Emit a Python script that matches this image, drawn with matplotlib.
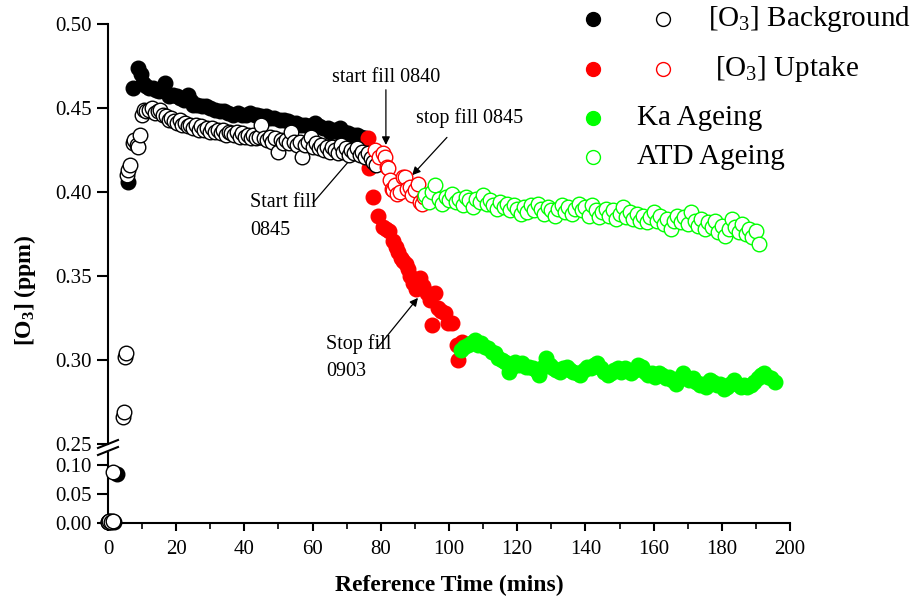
import numpy as np
import matplotlib
matplotlib.use("Agg")
import matplotlib.pyplot as plt
from matplotlib.lines import Line2D
from matplotlib.ticker import FormatStrFormatter, MultipleLocator

plt.rcParams['font.family'] = 'Liberation Serif'
plt.rcParams['mathtext.fontset'] = 'custom'
plt.rcParams['mathtext.rm'] = 'Liberation Serif'
plt.rcParams['mathtext.it'] = 'Liberation Serif:italic'
plt.rcParams['mathtext.bf'] = 'Liberation Serif:bold'

# --- data (time in mins, [O3] in ppm) ---
bg_fill_t = [0.0, 0.3, 0.7, 1.2, 1.8, 2.6, 5.8, 7.4, 8.8, 9.6,
             10.3, 11.2, 12.0, 13.2, 14.1, 15.0, 16.7, 18.0, 19.2, 20.1,
             21.0, 22.2, 23.5, 24.4, 25.0, 26.2, 27.5, 28.6, 30.0, 31.3,
             32.8, 34.0, 35.2, 36.7, 38.0, 39.2, 40.4, 41.6, 43.0, 43.7,
             45.0, 46.3, 47.5, 48.8, 50.4, 51.6, 52.8, 54.0, 55.2, 56.5,
             57.8, 59.0, 60.7, 62.0, 63.2, 64.4, 65.0, 66.3, 67.5, 68.0,
             69.2, 70.4, 71.8, 73.0, 74.2, 75.4]
bg_fill_v = [0.002, 0.004, 0.001, 0.003, 0.002, 0.084, 0.406, 0.462, 0.474, 0.470,
             0.465, 0.463, 0.462, 0.462, 0.461, 0.460, 0.465, 0.457, 0.458, 0.457,
             0.456, 0.455, 0.458, 0.454, 0.452, 0.452, 0.451, 0.451, 0.450, 0.449,
             0.448, 0.448, 0.447, 0.446, 0.447, 0.446, 0.446, 0.447, 0.446, 0.446,
             0.445, 0.445, 0.444, 0.444, 0.443, 0.443, 0.442, 0.441, 0.441, 0.440,
             0.440, 0.439, 0.441, 0.439, 0.438, 0.438, 0.436, 0.437, 0.436, 0.438,
             0.436, 0.435, 0.434, 0.434, 0.433, 0.432]

bg_open_t = [0.0, 0.4, 0.9, 1.4, 1.6, 4.4, 4.7, 5.0, 5.3, 5.6,
             6.0, 6.6, 7.2, 7.6, 8.4, 8.9, 9.4, 10.0, 10.6, 11.2,
             12.0, 13.0, 13.8, 14.6, 15.4, 16.2, 17.0, 17.8, 18.6, 19.4,
             20.2, 21.0, 21.8, 22.6, 23.4, 24.2, 25.0, 25.8, 26.6, 27.4,
             28.2, 29.0, 29.8, 30.6, 31.4, 32.2, 33.0, 33.8, 34.6, 35.4,
             36.2, 37.0, 37.8, 38.6, 39.4, 40.2, 41.0, 41.8, 42.6, 43.4,
             44.2, 45.0, 45.8, 46.6, 47.4, 48.2, 49.0, 49.8, 50.6, 51.4,
             52.2, 53.0, 53.8, 54.6, 55.4, 56.2, 57.0, 57.8, 58.6, 59.4,
             60.2, 61.0, 61.8, 62.6, 63.4, 64.2, 65.0, 65.8, 66.6, 67.4,
             68.2, 69.0, 69.8, 70.6, 71.4, 72.2, 73.0, 73.8, 74.6, 75.4,
             76.2, 77.0, 77.8, 78.6]
bg_open_v = [0.001, 0.003, 0.002, 0.004, 0.088, 0.266, 0.269, 0.302, 0.304, 0.410,
             0.413, 0.416, 0.429, 0.431, 0.428, 0.427, 0.434, 0.446, 0.449, 0.448,
             0.449, 0.450, 0.447, 0.448, 0.449, 0.446, 0.445, 0.443, 0.444, 0.442,
             0.441, 0.443, 0.440, 0.441, 0.439, 0.440, 0.438, 0.440, 0.437, 0.439,
             0.437, 0.438, 0.436, 0.438, 0.436, 0.437, 0.435, 0.437, 0.434, 0.436,
             0.435, 0.434, 0.436, 0.433, 0.435, 0.433, 0.434, 0.432, 0.434, 0.432,
             0.433, 0.440, 0.432, 0.431, 0.433, 0.430, 0.432, 0.424, 0.431, 0.429,
             0.431, 0.429, 0.436, 0.430, 0.428, 0.430, 0.421, 0.428, 0.430, 0.433,
             0.427, 0.429, 0.426, 0.428, 0.425, 0.427, 0.424, 0.427, 0.425, 0.423,
             0.428, 0.424, 0.426, 0.422, 0.425, 0.423, 0.426, 0.422, 0.424, 0.421,
             0.423, 0.420, 0.418, 0.416]

up_fill_t = [76.2, 76.6, 77.8, 79.3, 80.7, 81.6, 82.5, 83.6, 84.4, 85.1,
             85.9, 86.6, 87.3, 88.0, 88.7, 89.4, 90.4, 91.5, 92.5, 93.5,
             94.4, 95.0, 95.9, 96.9, 97.8, 98.8, 99.8, 100.8, 102.3, 102.6,
             103.8]
up_fill_v = [0.432, 0.414, 0.397, 0.386, 0.379, 0.378, 0.377, 0.371, 0.367, 0.364,
             0.361, 0.359, 0.357, 0.354, 0.350, 0.346, 0.342, 0.349, 0.344, 0.340,
             0.336, 0.321, 0.340, 0.331, 0.329, 0.328, 0.322, 0.322, 0.309, 0.300,
             0.311]

up_open_t = [78.3, 79.5, 80.7, 81.2, 81.8, 82.2, 82.7, 83.2, 83.6, 84.2,
             84.9, 85.6, 86.5, 87.0, 87.7, 88.5, 89.2, 89.9, 90.9, 91.5,
             92.0, 92.6]
up_open_v = [0.425, 0.421, 0.423, 0.421, 0.415, 0.414, 0.407, 0.402, 0.401, 0.404,
             0.399, 0.400, 0.409, 0.409, 0.402, 0.403, 0.398, 0.401, 0.405, 0.394,
             0.393, 0.397]

ka_t = [103.5, 104.5, 105.5, 106.5, 107.5, 108.5, 109.5, 110.5, 111.5, 112.5,
        113.5, 114.5, 115.5, 116.5, 117.5, 118.5, 119.5, 120.5, 121.5, 122.5,
        123.5, 124.5, 125.5, 126.5, 127.5, 128.5, 129.5, 130.5, 131.5, 132.5,
        133.5, 134.5, 135.5, 136.5, 137.5, 138.5, 139.5, 140.5, 141.5, 142.5,
        143.5, 144.5, 145.5, 146.5, 147.5, 148.5, 149.5, 150.5, 151.5, 152.5,
        153.5, 154.5, 155.5, 156.5, 157.5, 158.5, 159.5, 160.5, 161.5, 162.5,
        163.5, 164.5, 165.5, 166.5, 167.5, 168.5, 169.5, 170.5, 171.5, 172.5,
        173.5, 174.5, 175.5, 176.5, 177.5, 178.5, 179.5, 180.5, 181.5, 182.5,
        183.5, 184.5, 185.5, 186.5, 187.5, 188.5, 189.5, 190.5, 191.5, 192.5,
        193.5, 194.5, 195.5]
ka_v = [0.306, 0.308, 0.309, 0.310, 0.312, 0.309, 0.310, 0.308, 0.307, 0.305,
        0.304, 0.301, 0.300, 0.299, 0.293, 0.296, 0.299, 0.297, 0.298, 0.296,
        0.296, 0.295, 0.294, 0.291, 0.296, 0.301, 0.297, 0.295, 0.294, 0.293,
        0.295, 0.296, 0.294, 0.293, 0.292, 0.291, 0.294, 0.296, 0.295, 0.297,
        0.298, 0.295, 0.293, 0.291, 0.292, 0.294, 0.295, 0.293, 0.295, 0.294,
        0.292, 0.294, 0.297, 0.296, 0.293, 0.291, 0.292, 0.290, 0.292, 0.291,
        0.289, 0.290, 0.288, 0.286, 0.289, 0.292, 0.290, 0.288, 0.289, 0.287,
        0.285, 0.286, 0.284, 0.288, 0.287, 0.285, 0.286, 0.283, 0.284, 0.286,
        0.288, 0.286, 0.284, 0.285, 0.284, 0.285, 0.287, 0.289, 0.291, 0.292,
        0.290, 0.289, 0.287]

atd_t = [93, 94, 95, 96, 97, 98, 99, 100, 101, 102,
         103, 104, 105, 106, 107, 108, 109, 110, 111, 112,
         113, 114, 115, 116, 117, 118, 119, 120, 121, 122,
         123, 124, 125, 126, 127, 128, 129, 130, 131, 132,
         133, 134, 135, 136, 137, 138, 139, 140, 141, 142,
         143, 144, 145, 146, 147, 148, 149, 150, 151, 152,
         153, 154, 155, 156, 157, 158, 159, 160, 161, 162,
         163, 164, 165, 166, 167, 168, 169, 170, 171, 172,
         173, 174, 175, 176, 177, 178, 179, 180, 181, 182,
         183, 184, 185, 186, 187, 188, 189, 190, 191]
atd_v = [0.398, 0.394, 0.400, 0.404, 0.396, 0.393, 0.397, 0.395, 0.399, 0.394,
         0.396, 0.392, 0.397, 0.395, 0.391, 0.396, 0.394, 0.398, 0.393, 0.395,
         0.392, 0.390, 0.394, 0.391, 0.393, 0.389, 0.392, 0.390, 0.387, 0.391,
         0.388, 0.392, 0.389, 0.393, 0.390, 0.387, 0.391, 0.389, 0.386, 0.390,
         0.392, 0.388, 0.391, 0.387, 0.390, 0.393, 0.389, 0.391, 0.386, 0.392,
         0.389, 0.385, 0.388, 0.390, 0.386, 0.389, 0.384, 0.387, 0.391, 0.385,
         0.388, 0.384, 0.387, 0.383, 0.386, 0.382, 0.385, 0.388, 0.383, 0.386,
         0.381, 0.384, 0.378, 0.383, 0.386, 0.382, 0.385, 0.381, 0.388, 0.383,
         0.380, 0.384, 0.378, 0.382, 0.379, 0.383, 0.376, 0.380, 0.374, 0.378,
         0.384, 0.379, 0.376, 0.381, 0.375, 0.378, 0.373, 0.377, 0.369]

GREEN = '#00ff00'
MS = 10.5

fig = plt.figure(figsize=(9.15, 6.06), dpi=100)
ax = fig.add_axes([0.118, 0.2673, 0.7454, 0.6931])    # 0.25 - 0.50
axl = fig.add_axes([0.118, 0.137, 0.7454, 0.1155])    # 0.00 - 0.12


def draw(t, v, color, filled, z):
    t = np.asarray(t)
    v = np.asarray(v)
    hi = v > 0.2
    kw = dict(ls='none', marker='o', ms=MS, mec=color, mew=1.0,
              mfc=color if filled else 'white', zorder=z)
    ax.plot(t[hi], v[hi], **kw)
    if (~hi).any():
        axl.plot(t[~hi], v[~hi], clip_on=False, **kw)


draw(bg_fill_t, bg_fill_v, 'black', True, 3)
draw(up_fill_t, up_fill_v, 'red', True, 4)
draw(bg_open_t, bg_open_v, 'black', False, 5)
draw(up_open_t, up_open_v, 'red', False, 6)
draw(ka_t, ka_v, GREEN, True, 7)
draw(atd_t, atd_v, GREEN, False, 8)

for a in (ax, axl):
    a.set_xlim(0, 200)
    a.spines['top'].set_visible(False)
    a.spines['right'].set_visible(False)
    a.spines['left'].set_linewidth(1.5)
    a.spines['bottom'].set_linewidth(1.5)
    a.yaxis.set_major_formatter(FormatStrFormatter('%.2f'))
    a.tick_params(axis='y', direction='out', length=8, width=1.5, labelsize=15)

ax.set_ylim(0.25, 0.50)
ax.set_yticks([0.25, 0.30, 0.35, 0.40, 0.45, 0.50])
ax.spines['bottom'].set_visible(False)
ax.set_xticks([])

axl.set_ylim(0, 0.12)
axl.set_yticks([0.00, 0.05, 0.10])
axl.xaxis.set_major_locator(MultipleLocator(20))
axl.xaxis.set_minor_locator(MultipleLocator(10))
axl.tick_params(axis='x', which='major', direction='out', length=6, width=1.5, labelsize=15, pad=6)
axl.tick_params(axis='x', which='minor', direction='out', length=4, width=1.2)

# axis break marks
for y0, y1 in ((448, 440), (455, 447)):
    fig.add_artist(Line2D([98 / 915, 118 / 915], [1 - y0 / 606, 1 - y1 / 606],
                          transform=fig.transFigure, color='black', lw=1.5))

axl.set_xlabel('Reference Time (mins)', fontsize=17, fontweight='bold', labelpad=12)
fig.text(25 / 915, 1 - 290 / 606, r'$\mathbf{[O_3]\ (ppm)}$', rotation=90,
         ha='center', va='center', fontsize=17)

# annotations
arw = dict(arrowstyle='-|>', color='black', lw=0.9, mutation_scale=12, shrinkA=0, shrinkB=0)
ax.annotate('start fill 0840', xy=(81.5, 0.428), xytext=(81.5, 0.4625),
            ha='center', va='bottom', fontsize=14.5, arrowprops=arw, annotation_clip=False)
ax.annotate('', xy=(89.2, 0.410), xytext=(99.4, 0.4325), arrowprops=arw)
ax.text(106, 0.444, 'stop fill 0845', ha='center', va='center', fontsize=14.5)
ax.annotate('', xy=(76.0, 0.431), xytext=(60.1, 0.3935), arrowprops=arw)
ax.text(41.6, 0.3855, 'Start fill\n0845', ha='left', va='center', fontsize=14.5, linespacing=1.6)
ax.annotate('', xy=(90.9, 0.337), xytext=(79.2, 0.3077), arrowprops=arw)
ax.text(63.9, 0.3015, 'Stop fill\n0903', ha='left', va='center', fontsize=14.5, linespacing=1.6)

# legend, placed by hand to follow the original layout
rows = [(19, 'black', '[O$_3$] Background', 708),
        (69, 'red', '[O$_3$] Uptake', 715)]
for py, col, label, tx in rows:
    fig.add_artist(Line2D([593 / 915], [1 - py / 606], marker='o', ms=10, mfc=col, mec=col,
                          ls='none', transform=fig.transFigure))
    fig.add_artist(Line2D([663 / 915], [1 - py / 606], marker='o', ms=10, mfc='white', mec=col,
                          ls='none', transform=fig.transFigure))
    fig.text(tx / 915, 1 - py / 606, label, fontsize=21, va='center', ha='left')
fig.add_artist(Line2D([593 / 915], [1 - 118 / 606], marker='o', ms=10, mfc=GREEN, mec=GREEN,
                      ls='none', transform=fig.transFigure))
fig.text(637 / 915, 1 - 118 / 606, 'Ka Ageing', fontsize=21, va='center', ha='left')
fig.add_artist(Line2D([593 / 915], [1 - 157 / 606], marker='o', ms=10, mfc='white', mec=GREEN,
                      ls='none', transform=fig.transFigure))
fig.text(637 / 915, 1 - 157 / 606, 'ATD Ageing', fontsize=21, va='center', ha='left')

fig.savefig('out.png', dpi=100)
